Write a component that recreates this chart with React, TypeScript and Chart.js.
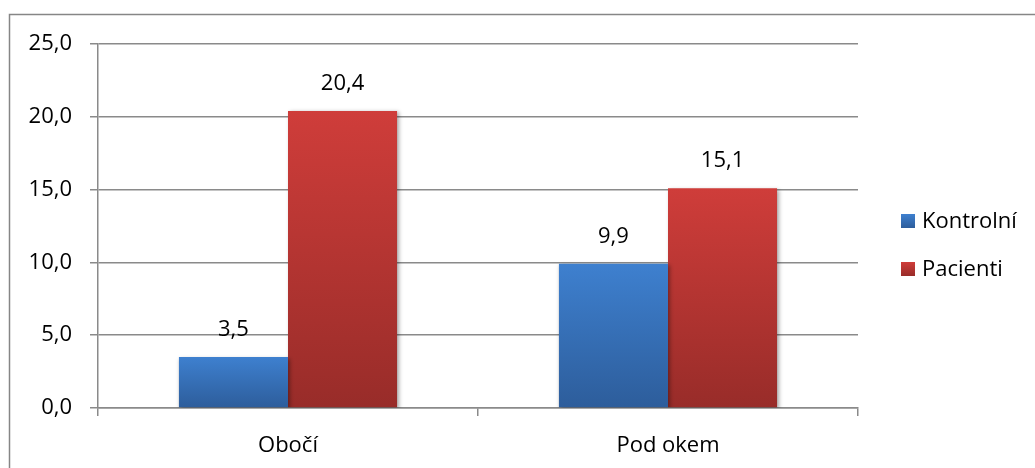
import React, { useEffect, useRef } from "react";
import { Chart, registerables } from "chart.js";

Chart.register(...registerables);

const categories = ["Obočí", "Pod okem"];
const kontrolni = [3.5, 9.9];
const pacienti = [20.4, 15.1];
const seriesNames = ["Kontrolní", "Pacienti"];
const yTicks = [0, 5, 10, 15, 20, 25];

const FONT = "'Open Sans', 'DejaVu Sans', sans-serif";
const FONT_SIZE = 22;
const GRID = "#8a8a8a";

const palettes = [
  { top: "#3e80cf", bottom: "#2d5d9b" },
  { top: "#cf3d3a", bottom: "#982c29" },
];

const fmt = (v: number) => v.toFixed(1).replace(".", ",");

function barGradient(ctx: any, dsIndex: number) {
  const chart = ctx.chart;
  const pal = palettes[dsIndex];
  if (!chart.chartArea || ctx.type !== "data") return pal.top;
  const y = chart.scales.y;
  const v = ctx.parsed ? ctx.parsed.y : ctx.raw;
  const top = y.getPixelForValue(v);
  const bottom = y.getPixelForValue(0);
  if (!isFinite(top) || !isFinite(bottom) || top === bottom) return pal.top;
  const g = chart.ctx.createLinearGradient(0, top, 0, bottom);
  g.addColorStop(0, pal.top);
  g.addColorStop(1, pal.bottom);
  return g;
}

const decorPlugin = {
  id: "decor",
  beforeDraw(chart: any) {
    const c = chart.ctx;
    c.save();
    c.fillStyle = "#ffffff";
    c.fillRect(0, 0, chart.width, chart.height);
    c.strokeStyle = "#868686";
    c.lineWidth = 1.5;
    c.strokeRect(9.5, 14.5, chart.width + 50, chart.height + 50);
    c.restore();
  },
  beforeDatasetsDraw(chart: any) {
    const c = chart.ctx;
    c.save();
    c.shadowColor = "rgba(0,0,0,0.35)";
    c.shadowBlur = 4;
    c.shadowOffsetX = 1.5;
    c.shadowOffsetY = 1.5;
  },
  afterDatasetsDraw(chart: any) {
    const c = chart.ctx;
    c.restore();
    c.save();
    c.font = `${FONT_SIZE}px ${FONT}`;
    c.fillStyle = "#000";
    c.textAlign = "center";
    c.textBaseline = "middle";
    chart.data.datasets.forEach((ds: any, i: number) => {
      const meta = chart.getDatasetMeta(i);
      meta.data.forEach((el: any, j: number) => {
        c.fillText(fmt(ds.data[j]), el.x, el.y - 27);
      });
    });
    c.restore();
  },
  afterDraw(chart: any) {
    const c = chart.ctx;
    c.save();
    c.font = `${FONT_SIZE}px ${FONT}`;
    c.textAlign = "left";
    c.textBaseline = "middle";
    const centers = [221, 269];
    chart.data.datasets.forEach((ds: any, i: number) => {
      const cy = centers[i];
      const pal = palettes[i];
      const g = c.createLinearGradient(0, cy - 7, 0, cy + 7);
      g.addColorStop(0, pal.top);
      g.addColorStop(1, pal.bottom);
      c.fillStyle = g;
      c.fillRect(901, cy - 7, 14, 14);
      c.fillStyle = "#000";
      c.fillText(ds.label, 922, cy + 1);
    });
    c.restore();
  },
};

export default function App() {
  const ref = useRef<HTMLCanvasElement>(null);
  useEffect(() => {
    if (!ref.current) return;
    const chart = new Chart(ref.current, {
      type: "bar",
      data: {
        labels: categories,
        datasets: [
          {
            label: seriesNames[0],
            data: kontrolni,
            backgroundColor: (ctx: any) => barGradient(ctx, 0),
            barPercentage: 1,
            categoryPercentage: 0.574,
          },
          {
            label: seriesNames[1],
            data: pacienti,
            backgroundColor: (ctx: any) => barGradient(ctx, 1),
            barPercentage: 1,
            categoryPercentage: 0.574,
          },
        ],
      },
      options: {
        responsive: false,
        animation: false,
        devicePixelRatio: 1,
        layout: { padding: { left: 0, top: 44, right: 177, bottom: 0 } },
        plugins: {
          legend: { display: false },
          tooltip: { enabled: false },
        },
        scales: {
          x: {
            grid: {
              offset: true,
              drawOnChartArea: false,
              drawTicks: true,
              tickLength: 8,
              color: GRID,
              lineWidth: 1.5,
            },
            border: { color: GRID, width: 1.5 },
            ticks: {
              color: "#000",
              padding: 17,
              font: { family: FONT, size: FONT_SIZE },
            },
            afterFit: (s: any) => {
              s.height = 60;
            },
          },
          y: {
            min: 0,
            max: 25,
            afterBuildTicks: (s: any) => {
              s.ticks = yTicks.map((v) => ({ value: v }));
            },
            grid: {
              color: GRID,
              lineWidth: 1.5,
              drawTicks: true,
              tickLength: 8,
            },
            border: { color: GRID, width: 1.5 },
            ticks: {
              color: "#000",
              padding: 18,
              font: { family: FONT, size: FONT_SIZE },
              callback: (v: any) => fmt(Number(v)),
            },
            afterFit: (s: any) => {
              s.width = 98;
            },
          },
        },
      },
      plugins: [decorPlugin],
    } as any);
    return () => chart.destroy();
  }, []);
  return (
    <canvas
      ref={ref}
      width={1035}
      height={468}
      style={{ position: "absolute", left: 0, top: 0, width: 1035, height: 468 }}
    />
  );
}
